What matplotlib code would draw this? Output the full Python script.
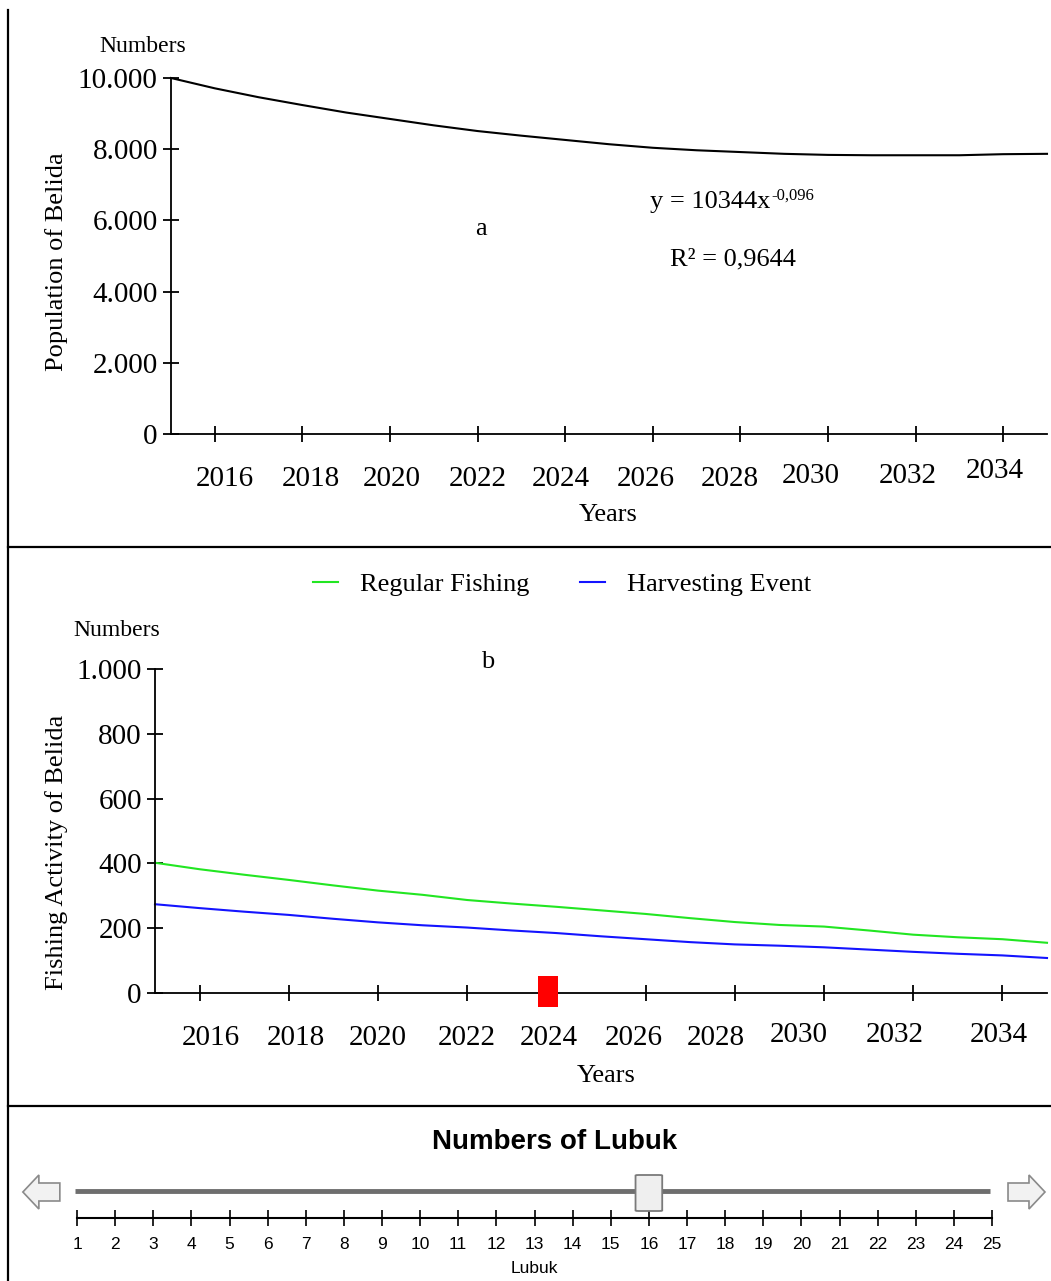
import matplotlib
matplotlib.use("Agg")
import matplotlib.pyplot as plt
from matplotlib.patches import Rectangle, FancyBboxPatch, Polygon
from matplotlib.lines import Line2D

# ---------------- data ----------------
years = list(range(2015, 2036))
population = [10000, 9710, 9460, 9240, 9030, 8850, 8670, 8510, 8380, 8260, 8140,
              8040, 7970, 7920, 7870, 7840, 7830, 7830, 7830, 7860, 7870]
regular_fishing = [402, 382, 365, 349, 332, 316, 303, 287, 276, 266, 255,
                   244, 231, 219, 210, 205, 193, 180, 172, 166, 155]
harvesting_event = [274, 262, 251, 241, 229, 218, 209, 202, 193, 185, 175,
                    166, 157, 150, 146, 141, 134, 127, 121, 116, 108]
xtick_years = [2016, 2018, 2020, 2022, 2024, 2026, 2028, 2030, 2032, 2034]
xtick_labels = ["2016", "2018", "2020", "2022", "2024", "2026", "2028", "2030", "2032", "2034"]
pop_yticks = [0, 2000, 4000, 6000, 8000, 10000]
pop_ytick_labels = ["0", "2.000", "4.000", "6.000", "8.000", "10.000"]
fish_yticks = [0, 200, 400, 600, 800, 1000]
fish_ytick_labels = ["0", "200", "400", "600", "800", "1.000"]
time_marker_year = 2023.8
lubuk_values = list(range(1, 26))
lubuk_selected = 16
equation_text = "y = 10344x"
equation_exp = "-0,096"
r2_text = "R\u00b2 = 0,9644"

SERIF = ["Liberation Serif", "DejaVu Serif"]
plt.rcParams["font.family"] = SERIF

W, H = 1051, 1281
fig = plt.figure(figsize=(W / 100, H / 100), dpi=100)


def px_rect(left, right, top, bottom):
    return [left / W, 1 - bottom / H, (right - left) / W, (bottom - top) / H]


def style_axes(ax):
    for s in ["top", "right"]:
        ax.spines[s].set_visible(False)
    for s in ["left", "bottom"]:
        ax.spines[s].set_linewidth(1.3)
    ax.tick_params(axis="both", direction="inout", length=11, width=1.3,
                   labelsize=21, pad=4)
    ax.set_xlim(2015, 2035)
    ax.set_xticks(xtick_years)
    ax.set_xticklabels([])


def xlabels(ax, dxs, dys):
    for yr, lab, dx, dy in zip(xtick_years, xtick_labels, dxs, dys):
        ax.annotate(lab, xy=(yr, 0), xycoords=("data", "axes fraction"),
                    xytext=(dx, -45 + dy), textcoords="offset pixels",
                    ha="center", va="center", fontsize=21)


# ---------------- panel a ----------------
axa = fig.add_axes(px_rect(171, 1047, 78, 434))
style_axes(axa)
axa.plot(years, population, color="black", lw=1.5, clip_on=False)
axa.set_ylim(0, 10000)
axa.set_yticks(pop_yticks)
axa.set_yticklabels(pop_ytick_labels)
xlabels(axa, [10, 8, 2, 0, -4, -7, -11, -17, -8, -8], [0, 0, 0, 0, 0, 0, 0, 3, 3, 8])
fig.text(608 / W, 1 - 515 / H, "Years", ha="center", va="center", fontsize=19)
fig.text(57 / W, 1 - 262 / H, "Population of Belida", ha="center", va="center",
         rotation=90, fontsize=19)
fig.text(143 / W, 1 - 47 / H, "Numbers", ha="center", va="center", fontsize=17)
fig.text(481 / W, 1 - 229 / H, "a", ha="center", va="center", fontsize=19)
eq = fig.text(650 / W, 1 - 202 / H, equation_text, ha="left", va="center", fontsize=19)
axa.annotate(equation_exp, xy=(1, 1), xycoords=eq, xytext=(1, 3),
             textcoords="offset pixels", ha="left", va="top", fontsize=12)
fig.text(733 / W, 1 - 259 / H, r2_text, ha="center", va="center", fontsize=19)

# ---------------- panel b ----------------
axb = fig.add_axes(px_rect(155, 1047, 669, 993))
style_axes(axb)
l1, = axb.plot(years, regular_fishing, color="#22e622", lw=1.5, clip_on=False)
l2, = axb.plot(years, harvesting_event, color="#1414ff", lw=1.5, clip_on=False)
axb.set_ylim(0, 1000)
axb.set_yticks(fish_yticks)
axb.set_yticklabels(fish_ytick_labels)
xlabels(axb, [11, 7, 0, 0, -8, -12, -19, -25, -18, -4], [0, 0, 0, 0, 0, 0, 0, 3, 3, 3])
axb.add_patch(Rectangle((time_marker_year - 0.22, -43), 0.45, 95,
                        facecolor="#ff0000", edgecolor="none", clip_on=False, zorder=5))
fig.text(606 / W, 1 - 1076 / H, "Years", ha="center", va="center", fontsize=19)
fig.text(57 / W, 1 - 852 / H, "Fishing Activity of Belida", ha="center", va="center",
         rotation=90, fontsize=19)
fig.text(117 / W, 1 - 630 / H, "Numbers", ha="center", va="center", fontsize=17)
fig.text(488 / W, 1 - 662 / H, "b", ha="center", va="center", fontsize=19)
fig.legend([l1, l2], ["Regular Fishing", "Harvesting Event"], ncol=2,
           loc="center", bbox_to_anchor=(562 / W, 1 - 584 / H), frameon=False,
           fontsize=19, handlelength=0.95, handletextpad=0.85, columnspacing=1.9)

# ---------------- panel c (slider) ----------------
axc = fig.add_axes(px_rect(77, 992, 1158, 1218))
axc.set_xlim(1, 25)
axc.set_ylim(0, 60)
for s in ["top", "right", "left"]:
    axc.spines[s].set_visible(False)
axc.spines["bottom"].set_linewidth(1.5)
axc.set_yticks([])
axc.set_xticks(lubuk_values)
axc.set_xticklabels([str(v) for v in lubuk_values], fontfamily="Liberation Sans")
axc.tick_params(axis="x", direction="inout", length=12, width=1.2, labelsize=12.5, pad=8)
axc.set_xlabel("Lubuk", fontfamily="Liberation Sans", fontsize=12.5, labelpad=6)
axc.patch.set_alpha(0)
# track
axc.plot([0.95, 24.95], [27, 27], color="#6e6e6e", lw=3.5, solid_capstyle="butt",
         clip_on=False)
# knob
axc.add_patch(FancyBboxPatch((lubuk_selected - 0.35, 7), 0.7, 36,
                             boxstyle="round,pad=0,rounding_size=0.08",
                             mutation_aspect=6,
                             facecolor="#efefef", edgecolor="#7a7a7a", lw=1.3,
                             clip_on=False, zorder=5))
# arrows
left_arrow = [(-0.42, 26), (0.0, 43), (0.0, 35), (0.55, 35), (0.55, 17),
              (0.0, 17), (0.0, 9)]
right_arrow = [(26.39, 26), (25.97, 43), (25.97, 35), (25.42, 35), (25.42, 17),
               (25.97, 17), (25.97, 9)]
for pts in (left_arrow, right_arrow):
    axc.add_patch(Polygon(pts, closed=True, facecolor="#f2f2f2", edgecolor="#8a8a8a",
                          lw=1.2, clip_on=False))
fig.text(555 / W, 1 - 1142 / H, "Numbers of Lubuk", ha="center", va="center",
         fontsize=20, fontweight="bold", fontfamily="Liberation Sans")

# ---------------- frame lines ----------------
for yy in (547, 1106):
    fig.add_artist(Line2D([8 / W, 1], [1 - yy / H, 1 - yy / H], color="black", lw=1.6))
fig.add_artist(Line2D([8 / W, 8 / W], [0, 1 - 10 / H], color="black", lw=1.6))

fig.savefig("out.png", dpi=100)
